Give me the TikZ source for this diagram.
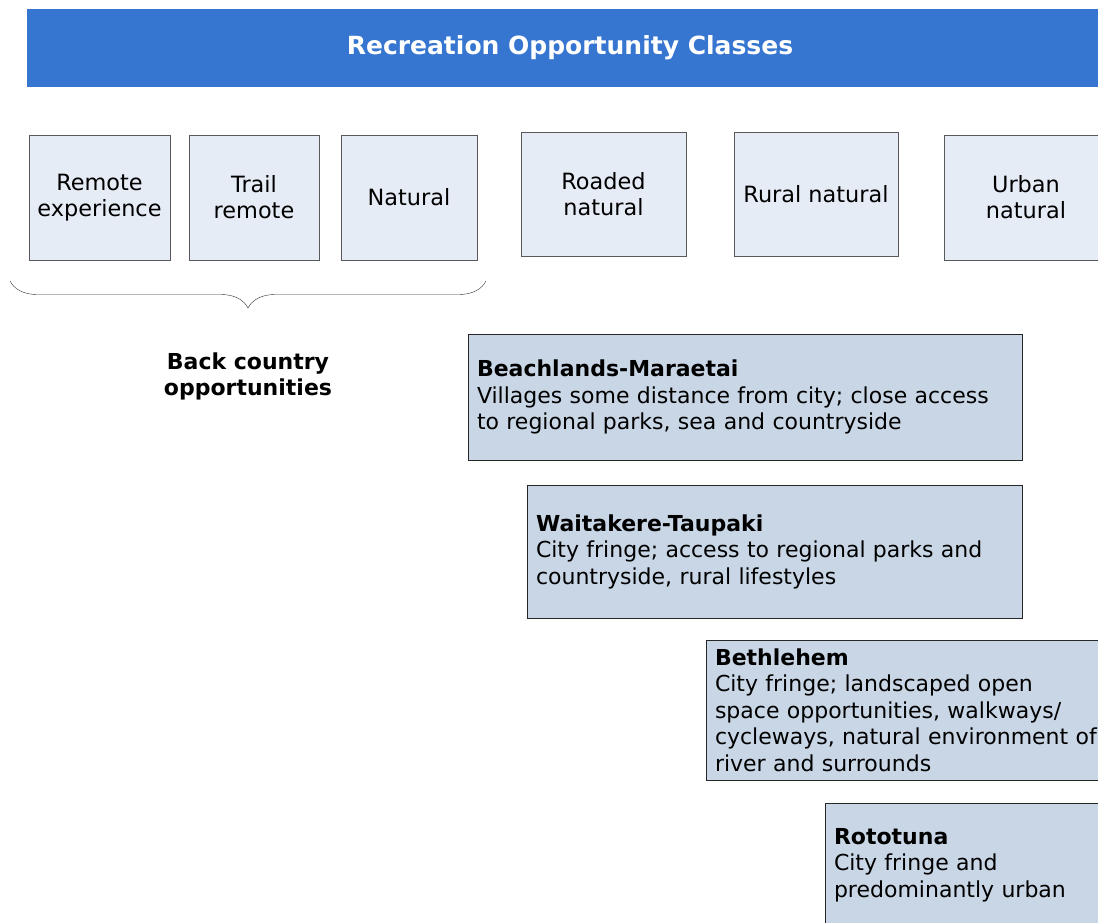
\documentclass[tikz,border=0pt]{standalone}
\usepackage{fontspec}
\setmainfont{DejaVu Sans}
\usetikzlibrary{decorations.pathreplacing}
\definecolor{barblue}{HTML}{3676D0}
\definecolor{classfill}{HTML}{E6ECF6}
\definecolor{sitefill}{HTML}{C9D6E6}
\begin{document}
\begin{tikzpicture}[x=1pt, y=-1pt,
  class/.style = {draw=black!65, fill=classfill, align=center, inner sep=0pt, font=\fontsize{22.4}{26}\selectfont},
  site/.style = {draw=black!85, fill=sitefill, align=left, inner xsep=9pt, inner ysep=0pt, font=\fontsize{22}{26.5}\selectfont}]
\useasboundingbox (0,0) rectangle (1098,922);
\clip (0,0) rectangle (1098,922);
\node[fill=barblue, minimum width=1086pt, minimum height=78pt, text=white, font=\bfseries\fontsize{25}{28}\selectfont] (title) at (570,48) {Recreation Opportunity Classes};

\node[class, minimum width=141pt, minimum height=125pt] (remote) at (99.5,197.5) {Remote\\experience};
\node[class, minimum width=130pt, minimum height=125pt] (trail) at (254,197.5) {Trail\\remote};
\node[class, minimum width=136pt, minimum height=125pt] (natural) at (409,197.5) {Natural};
\node[class, minimum width=165pt, minimum height=124pt] (roaded) at (603.5,194) {Roaded\\natural};
\node[class, minimum width=164pt, minimum height=124pt] (rural) at (816,194) {Rural natural};
\node[class, minimum width=164pt, minimum height=125pt] (urban) at (1026,197.5) {Urban\\natural};

\coordinate (bracestart) at (10,281);
\coordinate (braceend) at (486,281);
\draw[black!80, decorate, decoration={brace, mirror, amplitude=27pt}] (bracestart) -- (braceend);
\node[align=center, font=\bfseries\fontsize{22}{26}\selectfont] (backcountry) at (248,376) {Back country\\opportunities};

\node[site, text width=536pt, minimum height=126pt] (beach) at (745,397) {\textbf{Beachlands-Maraetai}\\Villages some distance from city; close access\\to regional parks, sea and countryside};
\node[site, text width=477pt, minimum height=133pt] (waitakere) at (774.5,551.5) {\textbf{Waitakere-Taupaki}\\City fringe; access to regional parks and\\countryside, rural lifestyles};
\node[site, text width=386pt, minimum height=140pt] (bethlehem) at (908,710) {\textbf{Bethlehem}\\City fringe; landscaped open\\space opportunities, walkways/\\cycleways, natural environment of\\river and surrounds};
\node[site, text width=267pt, minimum height=124pt] (rototuna) at (967.5,865) {\textbf{Rototuna}\\City fringe and\\predominantly urban};
\end{tikzpicture}
\end{document}
